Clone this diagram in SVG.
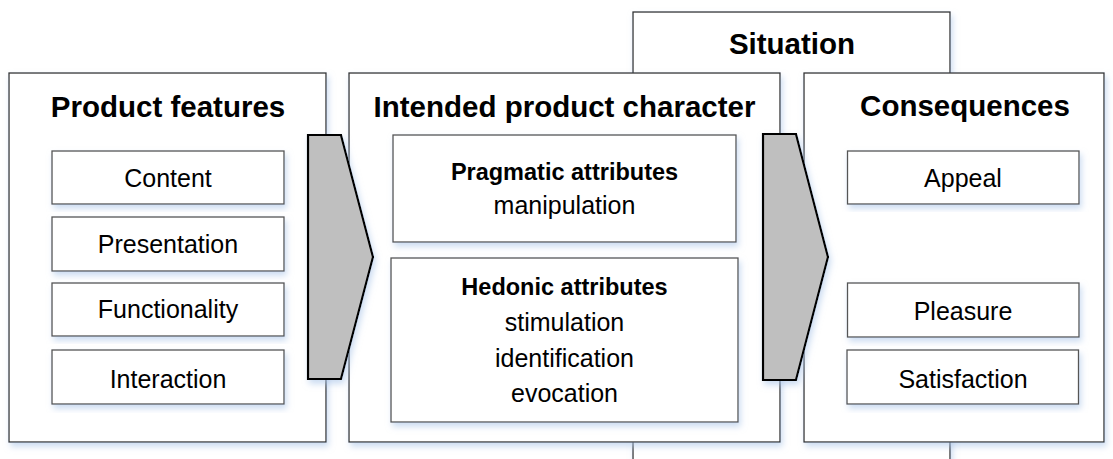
<svg xmlns="http://www.w3.org/2000/svg" width="1113" height="459" viewBox="0 0 1113 459">
<style>
.box{fill:#fff;stroke:#333;stroke-width:1.3;filter:url(#sh)}
.inner{fill:#fff;stroke:#555;stroke-width:1.3;filter:url(#sh)}
.arrow{fill:#bfbfbf;stroke:#000;stroke-width:2.2;stroke-linejoin:miter;filter:url(#sh)}
text{font-family:"Liberation Sans",Arial,sans-serif;fill:#000;text-anchor:middle}
.title{font-size:29.5px;font-weight:bold}
.item{font-size:25px}
.sub{font-size:23.5px;font-weight:bold}
</style>
<defs>
<filter id="sh" x="-10%" y="-10%" width="125%" height="125%">
<feDropShadow dx="2" dy="4" stdDeviation="3" flood-color="#a9c4e8" flood-opacity="0.6"/>
</filter>
</defs>
<rect width="1113" height="459" fill="#fff"/>
<g id="situation">
<rect class="box" x="633" y="12" width="317" height="460"/>
<text class="title" x="792" y="54">Situation</text>
</g>
<g id="product-features">
<rect class="box" x="9" y="73" width="317" height="369"/>
<text class="title" x="168" y="116.5">Product features</text>
</g>
<g id="intended-product-character">
<rect class="box" x="349" y="73" width="431" height="369"/>
<text class="title" x="564.5" y="116.5">Intended product character</text>
</g>
<g id="consequences">
<rect class="box" x="804" y="73" width="300" height="369"/>
<text class="title" x="965" y="116">Consequences</text>
</g>
<g id="content">
<rect class="inner" x="52" y="151" width="232" height="53"/>
<text class="item" x="168" y="186.5">Content</text>
</g>
<g id="presentation">
<rect class="inner" x="52" y="217" width="232" height="54"/>
<text class="item" x="168" y="252.5">Presentation</text>
</g>
<g id="functionality">
<rect class="inner" x="52" y="283" width="232" height="53"/>
<text class="item" x="168" y="318">Functionality</text>
</g>
<g id="interaction">
<rect class="inner" x="52" y="350" width="232" height="54"/>
<text class="item" x="168" y="388">Interaction</text>
</g>
<g id="pragmatic">
<rect class="inner" x="393" y="135" width="343" height="107"/>
<text class="sub" x="564.5" y="180">Pragmatic attributes</text>
<text class="item" x="564.5" y="214">manipulation</text>
</g>
<g id="hedonic">
<rect class="inner" x="391" y="258" width="347" height="164"/>
<text class="sub" x="564.5" y="295">Hedonic attributes</text>
<text class="item" x="564.5" y="330.5">stimulation</text>
<text class="item" x="564.5" y="366.5">identification</text>
<text class="item" x="564.5" y="401.5">evocation</text>
</g>
<g id="appeal">
<rect class="inner" x="847.5" y="151" width="231.5" height="53"/>
<text class="item" x="963" y="187">Appeal</text>
</g>
<g id="pleasure">
<rect class="inner" x="847.5" y="283" width="231.5" height="54"/>
<text class="item" x="963" y="320">Pleasure</text>
</g>
<g id="satisfaction">
<rect class="inner" x="847" y="350" width="231.5" height="54"/>
<text class="item" x="963" y="388">Satisfaction</text>
</g>
<g id="connectors">
<polygon class="arrow" points="308,135 341,135 373,257 341,379 308,379"/>
<polygon class="arrow" points="763,134 796,134 828,257 796,380 763,380"/>
</g>
</svg>
